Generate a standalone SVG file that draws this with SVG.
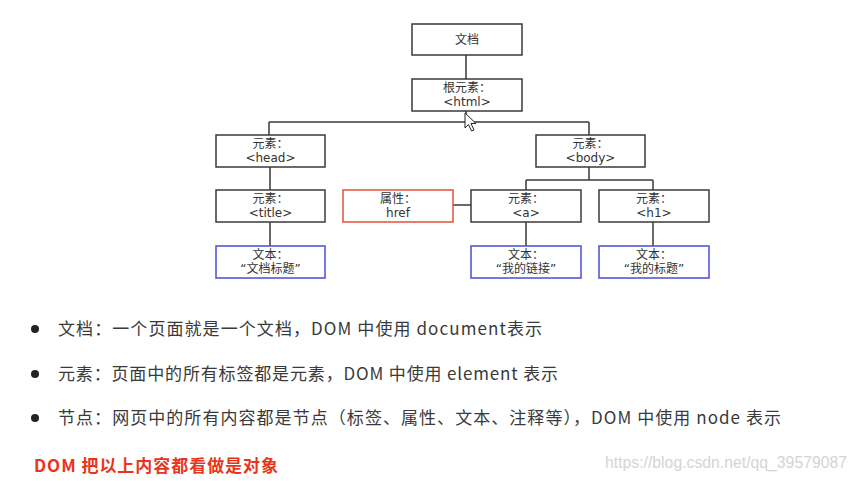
<svg xmlns="http://www.w3.org/2000/svg" width="857" height="481" viewBox="0 0 857 481">
<style>
.box{fill:#fff;stroke:#3a3a3a;stroke-width:1.5}
.attr{fill:#fff;stroke:#e0503c;stroke-width:1.5}
.txt{fill:#fff;stroke:#4b4bd6;stroke-width:1.5}
.lbl{font-family:"DejaVu Sans","Noto Sans CJK SC",sans-serif;font-size:12px;fill:#333;text-anchor:middle}
.con{fill:none;stroke:#3a3a3a;stroke-width:1.5}
.bul{font-family:"Noto Sans CJK SC","Noto Sans",sans-serif;font-size:17px;fill:#3a3a3a}
</style>
<rect width="857" height="481" fill="#fff"/>
<g id="connectors">
<path class="con" d="M466 55V79M466 111V122M269 122H589M269 122V135M589 122V135M270 167V190M270 222V246M589 167V180M526 180H653M526 180V190M653 180V190M526 222V246M653 222V246M453 205H471"/>
</g>
<g id="doc"><rect class="box" x="412" y="24" width="110" height="31"/><text class="lbl" x="467" y="44">文档</text></g>
<g id="html"><rect class="box" x="412" y="79" width="110" height="32"/><text class="lbl" x="467" y="92">根元素：</text><text class="lbl" x="467" y="106">&lt;html&gt;</text></g>
<g id="head"><rect class="box" x="216" y="135" width="109" height="32"/><text class="lbl" x="270.5" y="148">元素：</text><text class="lbl" x="270.5" y="162">&lt;head&gt;</text></g>
<g id="body"><rect class="box" x="536" y="135" width="109" height="32"/><text class="lbl" x="590.5" y="148">元素：</text><text class="lbl" x="590.5" y="162">&lt;body&gt;</text></g>
<g id="title"><rect class="box" x="216" y="190" width="109" height="32"/><text class="lbl" x="270.5" y="203">元素：</text><text class="lbl" x="270.5" y="217">&lt;title&gt;</text></g>
<g id="href"><rect class="attr" x="343" y="190" width="110" height="32"/><text class="lbl" x="398" y="203">属性：</text><text class="lbl" x="398" y="217">href</text></g>
<g id="a"><rect class="box" x="471" y="190" width="110" height="32"/><text class="lbl" x="526" y="203">元素：</text><text class="lbl" x="526" y="217">&lt;a&gt;</text></g>
<g id="h1"><rect class="box" x="599" y="190" width="110" height="32"/><text class="lbl" x="654" y="203">元素：</text><text class="lbl" x="654" y="217">&lt;h1&gt;</text></g>
<g id="text1"><rect class="txt" x="216" y="246" width="109" height="32"/><text class="lbl" x="270.5" y="259">文本：</text><text class="lbl" x="270.5" y="273">“文档标题”</text></g>
<g id="text2"><rect class="txt" x="471" y="246" width="110" height="32"/><text class="lbl" x="526" y="259">文本：</text><text class="lbl" x="526" y="273">“我的链接”</text></g>
<g id="text3"><rect class="txt" x="599" y="246" width="110" height="32"/><text class="lbl" x="654" y="259">文本：</text><text class="lbl" x="654" y="273">“我的标题”</text></g>
<path d="M465 113V128L468.5 124.5L471.5 131L474 130L471 123.5H476Z" fill="#fff" stroke="#222" stroke-width="1"/>
<g id="bullets">
<circle cx="35" cy="329" r="4" fill="#222"/>
<circle cx="35" cy="374" r="4" fill="#222"/>
<circle cx="35" cy="418" r="4" fill="#222"/>
<text class="bul" x="58" y="335" textLength="484" lengthAdjust="spacing">文档：一个页面就是一个文档，DOM 中使用 document表示</text>
<text class="bul" x="58" y="380" textLength="500" lengthAdjust="spacing">元素：页面中的所有标签都是元素，DOM 中使用 element 表示</text>
<text class="bul" x="58" y="424" textLength="723" lengthAdjust="spacing">节点：网页中的所有内容都是节点（标签、属性、文本、注释等），DOM 中使用 node 表示</text>
<text x="34" y="472" textLength="244" lengthAdjust="spacing" font-family="Noto Sans CJK SC, sans-serif" font-size="17" font-weight="bold" fill="#e8361c">DOM 把以上内容都看做是对象</text>
<text x="605" y="468" textLength="242" lengthAdjust="spacingAndGlyphs" font-family="Liberation Sans, sans-serif" font-size="16" fill="#d4d4d4">https://blog.csdn.net/qq_39579087</text>
</g>
</svg>
